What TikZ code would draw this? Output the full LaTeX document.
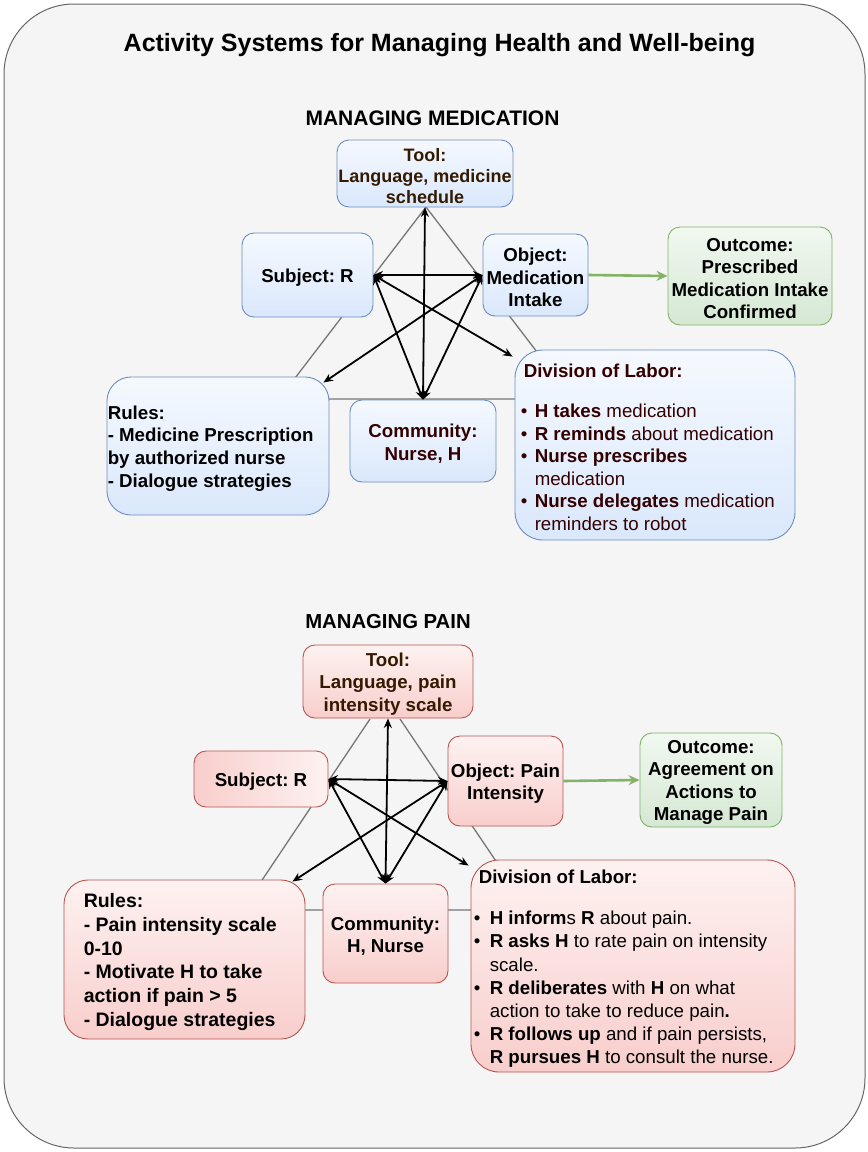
\documentclass[tikz,border=0pt]{standalone}
\usepackage{fontspec}
\setmainfont{Liberation Sans}
\usetikzlibrary{arrows.meta}
\definecolor{bgfill}{HTML}{F5F5F5}
\definecolor{bgline}{HTML}{666666}
\definecolor{bluefill}{HTML}{DAE8FC}
\definecolor{bluetop}{HTML}{F5F9FE}
\definecolor{blueline}{HTML}{6C8EBF}
\definecolor{redfill}{HTML}{F8CECC}
\definecolor{redtop}{HTML}{FDF2F1}
\definecolor{redline}{HTML}{B85450}
\definecolor{greenfill}{HTML}{D5E8D4}
\definecolor{greentop}{HTML}{F1F8F0}
\definecolor{greenline}{HTML}{82B366}
\definecolor{triline}{HTML}{777777}
\definecolor{toolc}{HTML}{331A00}
\definecolor{commc}{HTML}{330000}
\newcommand\mybul[1]{\makebox[#1][l]{•}}
\frenchspacing
\begin{document}
\begin{tikzpicture}[x=1pt,y=-1pt,
  every node/.style={inner sep=2pt},
  box/.style={draw, line width=0.9pt},
  bluebox/.style={box, draw=blueline, top color=bluetop, bottom color=bluefill, rounded corners=12pt},
  redbox/.style={box, draw=redline, top color=redtop, bottom color=redfill, rounded corners=12pt},
  greenbox/.style={box, draw=greenline, top color=greentop, bottom color=greenfill, rounded corners=12pt},
  lbl/.style={inner sep=0pt, align=center, yshift=-2.5pt, font=\bfseries\fontsize{18.7}{22.5}\selectfont},
  txt/.style={inner sep=0pt, align=left, anchor=west, yshift=-2.5pt},
  tri/.style={draw=triline, line width=1.3pt},
  relarrow/.style={{Stealth[length=9.5pt,width=8pt]}-{Stealth[length=9.5pt,width=8pt]}, line width=1.8pt, black},
  outarrow/.style={-{Stealth[length=11pt,width=10pt]}, line width=2.6pt, greenline}
]
\useasboundingbox (0,0) rectangle (868,1152);
\fill[white] (0,0) rectangle (868,1152);
\draw[fill=bgfill, draw=bgline, line width=1pt, rounded corners=70pt] (4,4) rectangle (865,1148);

\node[font=\bfseries\fontsize{25}{30}\selectfont] (title) at (439.5,45) {Activity Systems for Managing Health and Well-being};
\node[font=\bfseries\fontsize{21}{25}\selectfont] (head1) at (432.5,118) {MANAGING MEDICATION};
\node[font=\bfseries\fontsize{20.3}{25}\selectfont] (head2) at (388,622) {MANAGING PAIN};

% ---------------- top system ----------------
\draw[tri] (426,207) -- (279,399) -- (573,399) -- cycle;

\node[bluebox, minimum width=176pt, minimum height=67pt] (tool1) at (425,173.5) {};
\node[lbl, text=toolc, font=\bfseries\fontsize{18}{21}\selectfont] (tool1t) at (tool1.center) {Tool:\\Language, medicine\\schedule};
\node[bluebox, minimum width=131pt, minimum height=84pt] (subj1) at (307.5,275) {};
\node[lbl] (subj1t) at (subj1.center) {Subject: R};
\node[bluebox, minimum width=105pt, minimum height=82pt] (obj1) at (535.5,275) {};
\node[lbl] (obj1t) at (obj1.center) {Object:\\Medication\\Intake};
\node[greenbox, minimum width=164pt, minimum height=98pt] (out1) at (750,276) {};
\node[lbl] (out1t) at (out1.center) {Outcome:\\Prescribed\\Medication Intake\\Confirmed};
\node[bluebox, rounded corners=24pt, minimum width=222pt, minimum height=138pt] (rules1) at (218,446) {};
\node[txt, font=\bfseries\fontsize{18.7}{22.7}\selectfont] (rules1t) at ([xshift=1pt]rules1.west) {Rules:\\- Medicine Prescription\\by authorized nurse\\- Dialogue strategies};
\node[bluebox, minimum width=146pt, minimum height=82pt] (comm1) at (423,441) {};
\node[lbl, text=commc] (comm1t) at (comm1.center) {Community:\\Nurse, H};
\node[bluebox, rounded corners=28pt, minimum width=280pt, minimum height=190pt] (dol1) at (655,445) {};
\node[txt, text=commc, font=\fontsize{18.7}{22.5}\selectfont] (dol1t) at ([xshift=6pt]dol1.west)
 {\hspace*{3pt}\textbf{Division of Labor:}\\[17.5pt]
  \mybul{14pt}\textbf{H takes} medication\\
  \mybul{14pt}\textbf{R reminds} about medication\\
  \mybul{14pt}\textbf{Nurse prescribes}\\
  \hspace*{14pt}medication\\
  \mybul{14pt}\textbf{Nurse delegates} medication\\
  \hspace*{14pt}reminders to robot};

\draw[relarrow] (tool1.south) -- (comm1.north);
\draw[relarrow] (subj1.east) -- (obj1.west);
\draw[relarrow] (subj1.east) -- (comm1.north);
\draw[relarrow] (obj1.west) -- (comm1.north);
\draw[relarrow] (subj1.east) -- ([xshift=-2pt,yshift=-7pt]dol1.north west);
\draw[relarrow] (obj1.west) -- ([xshift=-6pt,yshift=-6pt]rules1.north east);
\draw[outarrow] (obj1.east) -- (out1.west);

% ---------------- bottom system ----------------
\draw[tri] (370,719) -- (242,910) -- (529,910) -- (400,719);

\node[redbox, minimum width=170pt, minimum height=73pt] (tool2) at (388,681.5) {};
\node[lbl, text=toolc] (tool2t) at (tool2.center) {Tool:\\Language, pain\\intensity scale};
\node[box, draw=redline, left color=redfill, right color=redtop, rounded corners=12pt, minimum width=134pt, minimum height=56pt] (subj2) at (261,779) {};
\node[lbl] (subj2t) at (subj2.center) {Subject: R};
\node[redbox, minimum width=115pt, minimum height=90pt] (obj2) at (505.5,781) {};
\node[lbl] (obj2t) at (obj2.center) {Object: Pain\\Intensity};
\node[greenbox, minimum width=142pt, minimum height=94pt] (out2) at (711,780) {};
\node[lbl] (out2t) at (out2.center) {Outcome:\\Agreement on\\Actions to\\Manage Pain};
\node[redbox, rounded corners=24pt, minimum width=241pt, minimum height=159pt] (rules2) at (184.5,959.5) {};
\node[txt, font=\bfseries\fontsize{19.5}{23.8}\selectfont] (rules2t) at ([xshift=20pt]rules2.west) {Rules:\\- Pain intensity scale\\0-10\\- Motivate H to take\\action if pain > 5\\- Dialogue strategies};
\node[redbox, minimum width=125pt, minimum height=99pt] (comm2) at (385.5,933.5) {};
\node[lbl] (comm2t) at (comm2.center) {Community:\\H, Nurse};
\node[redbox, rounded corners=28pt, minimum width=324pt, minimum height=212pt] (dol2) at (633,966) {};
\node[txt, font=\fontsize{18.7}{23.1}\selectfont] (dol2t) at ([xshift=3pt]dol2.west)
 {\hspace*{5pt}\textbf{Division of Labor:}\\[18.5pt]
  \mybul{16pt}\textbf{H inform}s \textbf{R} about pain.\\
  \mybul{16pt}\textbf{R asks H} to rate pain on intensity\\
  \hspace*{16pt}scale.\\
  \mybul{16pt}\textbf{R deliberates} with \textbf{H} on what\\
  \hspace*{16pt}action to take to reduce pain\textbf{.}\\
  \mybul{16pt}\textbf{R follows up} and if pain persists,\\
  \hspace*{16pt}\textbf{R pursues H} to consult the nurse.};

\draw[relarrow] (tool2.south) -- (comm2.north);
\draw[relarrow] (subj2.east) -- (obj2.west);
\draw[relarrow] (subj2.east) -- (comm2.north);
\draw[relarrow] (obj2.west) -- (comm2.north);
\draw[relarrow] (subj2.east) -- ([xshift=-2pt,yshift=-6pt]dol2.north west);
\draw[relarrow] (obj2.west) -- ([xshift=-13pt,yshift=-2pt]rules2.north east);
\draw[outarrow] (obj2.east) -- (out2.west);
\end{tikzpicture}
\end{document}
